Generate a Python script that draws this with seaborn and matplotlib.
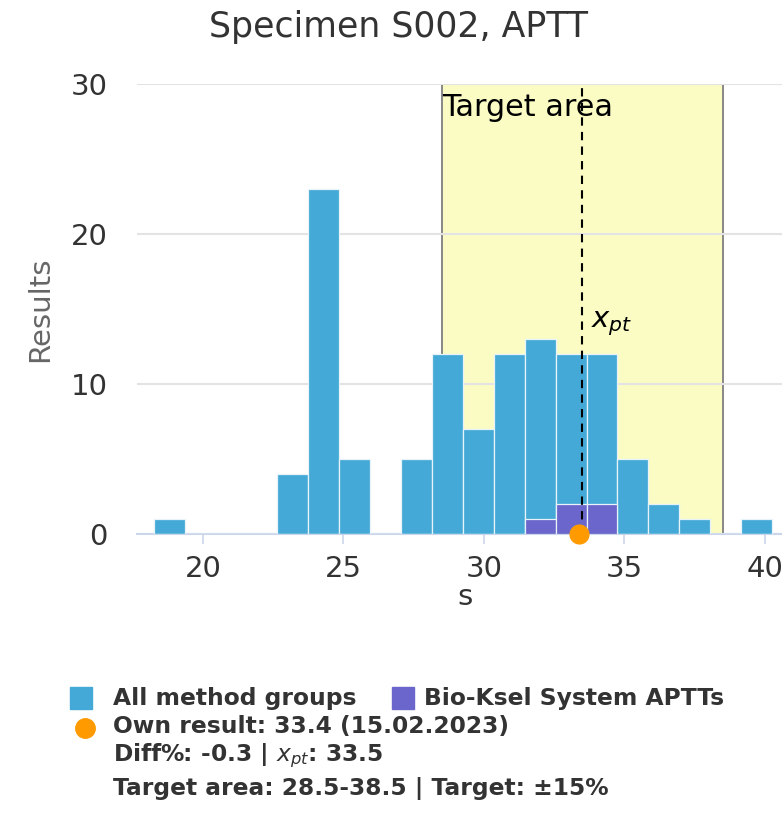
import numpy as np
import pandas as pd
import seaborn as sns
import matplotlib
matplotlib.use("Agg")
import matplotlib.pyplot as plt
from matplotlib.lines import Line2D
from matplotlib.patches import Rectangle

# ---------------- data ----------------
bin_start = 18.25
bin_width = 1.1
all_counts = [1, 0, 0, 0, 4, 23, 5, 0, 5, 12, 7, 12, 13, 12, 12, 5, 2, 1, 0, 1]
group_counts = [0, 0, 0, 0, 0, 0, 0, 0, 0, 0, 0, 0, 1, 2, 2, 0, 0, 0, 0, 0]
own_result = 33.4
x_pt = 33.5
target_low, target_high = 28.5, 38.5
title = "Specimen S002, APTT"
x_label = "s"
y_label = "Results"
x_ticks = [20, 25, 30, 35, 40]
y_ticks = [0, 10, 20, 30]
legend_all = "All method groups"
legend_group = "Bio-Ksel System APTTs"
legend_own = "Own result: 33.4 (15.02.2023)"
legend_diff = "Diff%: -0.3 | $x_{pt}$: 33.5"
legend_target = "Target area: 28.5-38.5 | Target: ±15%"

n = len(all_counts)
edges = bin_start + np.arange(n + 1) * bin_width
centers = edges[:-1] + bin_width / 2
df = pd.DataFrame({"center": centers, "all": all_counts, "group": group_counts})

# ---------------- style ----------------
sns.set_theme(style="white")
plt.rcParams["font.family"] = ["DejaVu Sans"]

BLUE = "#44a9d6"
PURPLE = "#6a66cb"
ORANGE = "#ff9a00"
YELLOW = "#fafcc4"
DARK = "#333333"
W, H = 782, 814

fig = plt.figure(figsize=(W / 100, H / 100), dpi=100)
fig.patch.set_facecolor("white")
ax = fig.add_axes([137 / W, (H - 534) / H, (793 - 137) / W, (534 - 84) / H])
ax.set_facecolor("white")

# target area
ax.axvspan(target_low, target_high, color=YELLOW, zorder=0.2, lw=0)
for xv in (target_low, target_high):
    ax.axvline(xv, color="#7f7f7f", lw=1.3, zorder=0.3)

brange = (float(edges[0]), float(edges[-1]))
sns.histplot(data=df, x="center", weights="all", binwidth=bin_width, binrange=brange,
             ax=ax, color=BLUE, alpha=1, edgecolor="#e8f3f9", linewidth=0.9, zorder=2)
sns.histplot(data=df, x="center", weights="group", binwidth=bin_width, binrange=brange,
             ax=ax, color=PURPLE, alpha=1, edgecolor="#e8f3f9", linewidth=0.9, zorder=3)

ax.axvline(x_pt, color="black", lw=1.5, ls=(0, (4, 3)), zorder=4)
ax.scatter([own_result], [0], s=210, color=ORANGE, zorder=6, clip_on=False, linewidths=0)

ax.set_xlim(17.65, 41.0)
ax.set_ylim(0, 30)
ax.set_xticks(x_ticks)
ax.set_yticks(y_ticks)
ax.yaxis.grid(True, color="#e3e3e3", lw=1.5, zorder=0.5)
ax.xaxis.grid(False)
ax.set_axisbelow(True)
for s in ("top", "right", "left"):
    ax.spines[s].set_visible(False)
ax.spines["bottom"].set_color("#ccd6eb")
ax.spines["bottom"].set_linewidth(1.5)
ax.spines["bottom"].set_zorder(1)
ax.tick_params(axis="x", length=7.5, width=1.2, color="#ccd6eb", labelsize=21,
               labelcolor=DARK, pad=7.5, bottom=True)
ax.tick_params(axis="y", length=0, labelsize=21, labelcolor=DARK, pad=21)
ax.set_xlabel(x_label, fontsize=21, color=DARK, labelpad=0)
ax.set_ylabel(y_label, fontsize=21, color="#666666", labelpad=12)

ax.text(target_low, 29.4, "Target area", fontsize=21.8, color="black",
        ha="left", va="top", zorder=5)
ax.text(x_pt + 0.3, 13.8, "$x_{pt}$", fontsize=21, color="black",
        ha="left", va="baseline", zorder=5)

fig.text(399 / W, 1 - 27 / H, title, fontsize=25, color=DARK, ha="center", va="center")

# ---------------- legend ----------------
def fx(px):
    return px / W

def fy(py):
    return 1 - py / H

sq = 22
fig.add_artist(Rectangle((fx(70), fy(709)), sq / W, sq / H, color=BLUE, transform=fig.transFigure))
fig.add_artist(Rectangle((fx(392), fy(709)), sq / W, sq / H, color=PURPLE, transform=fig.transFigure))
fig.add_artist(Line2D([fx(85)], [fy(728)], marker="o", markersize=14, color=ORANGE,
                      lw=0, transform=fig.transFigure))
lk = dict(fontsize=16.8, color=DARK, fontweight="bold", ha="left", va="center")
fig.text(fx(113), fy(698), legend_all, **lk)
fig.text(fx(424), fy(698), legend_group, **lk)
fig.text(fx(113), fy(726), legend_own, **lk)
fig.text(fx(113), fy(756), legend_diff, **lk)
fig.text(fx(113), fy(789), legend_target, **lk)

fig.savefig("out.png", dpi=100)
